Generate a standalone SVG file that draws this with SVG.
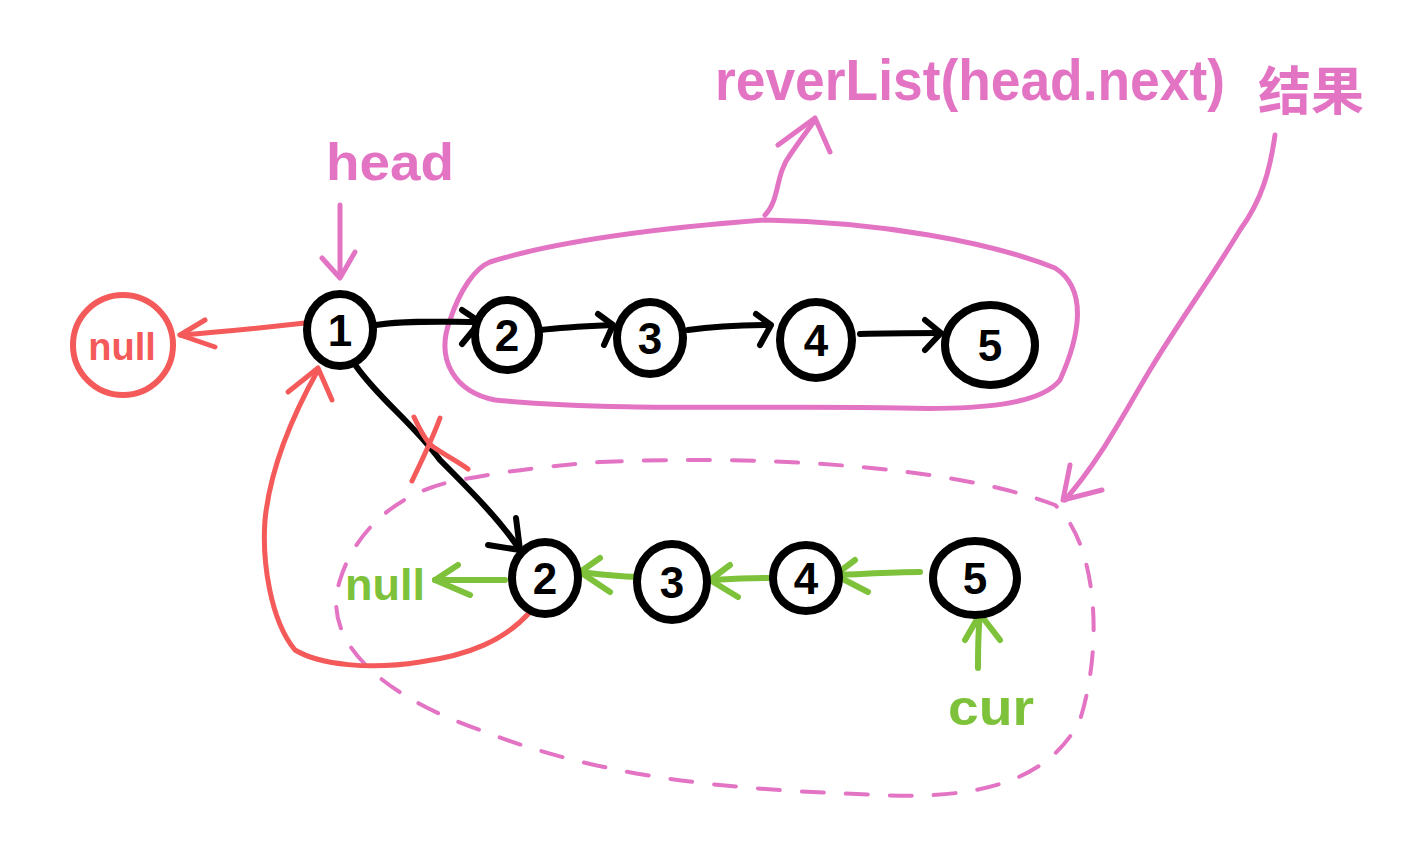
<svg xmlns="http://www.w3.org/2000/svg" width="1402" height="841" viewBox="0 0 1402 841">
<style>
.bk{fill:none;stroke:#000;stroke-width:6;stroke-linecap:round;stroke-linejoin:round}
.nd{fill:#fff;stroke:#000;stroke-width:8}
.num{font-family:"Liberation Sans",sans-serif;font-size:44px;font-weight:bold;fill:#000;text-anchor:middle}
.pk{fill:none;stroke:#E374C4;stroke-width:5;stroke-linecap:round;stroke-linejoin:round}
.pkd{fill:none;stroke:#E374C4;stroke-width:4;stroke-linecap:round;stroke-dasharray:22 22}
.rd{fill:none;stroke:#F55A5A;stroke-width:5;stroke-linecap:round;stroke-linejoin:round}
.gr{fill:none;stroke:#7DC23A;stroke-width:6;stroke-linecap:round;stroke-linejoin:round}
.tp{font-family:"Liberation Sans","Noto Sans CJK SC",sans-serif;fill:#E374C4;font-weight:bold}
.tg{font-family:"Liberation Sans",sans-serif;fill:#7DC23A;font-weight:bold}
.tr{font-family:"Liberation Sans",sans-serif;fill:#F55A5A;font-weight:bold}
</style>
<rect width="1402" height="841" fill="#fff"/>
<g id="top-blob"><path class="pk" d="M490,262 C560,240 660,228 765,220 C880,222 990,242 1055,268 C1090,290 1078,340 1060,380 C1040,405 980,410 900,408 C780,405 620,412 495,400 C455,392 435,360 450,320 C460,290 475,268 490,262 Z"/></g>
<g id="bottom-blob"><path class="pkd" d="M600,462 C760,455 950,465 1055,505 C1095,540 1105,640 1080,720 C1050,780 980,800 880,795 C760,790 620,785 480,730 C380,695 320,640 340,580 C355,530 400,490 460,480 C510,470 560,465 600,462 Z"/></g>
<g id="connectors">
<path class="bk" d="M376,325 C410,320 445,322 478,322"/><path class="bk" d="M462,310 L480,322 L462,344"/>
<path class="bk" d="M540,330 C565,327 590,326 612,325"/><path class="bk" d="M598,314 L613,325 L604,345"/>
<path class="bk" d="M688,330 C715,326 742,325 770,325"/><path class="bk" d="M756,314 L771,325 L760,345"/>
<path class="bk" d="M860,334 C890,333 915,333 940,333"/><path class="bk" d="M925,320 L941,333 L925,350"/>
<path class="bk" d="M356,366 C380,400 410,420 440,460 C470,490 500,520 520,550"/><path class="bk" d="M488,545 L520,550 L516,518"/>
<path class="rd" d="M305,323 C260,328 220,332 180,335"/><path class="rd" d="M205,320 L180,335 L215,347"/>
<path class="rd" d="M530,612 C505,640 470,655 420,662 C370,670 320,665 295,650 C270,620 262,560 265,520 C270,470 290,420 318,370"/><path class="rd" d="M288,392 L318,368 L332,400"/>
<path class="rd" d="M414,417 C420,430 425,440 432,446 C445,455 458,462 468,469 M440,418 C432,440 422,460 412,481"/>
<path class="gr" d="M920,572 C890,572 865,574 835,575"/><path class="gr" d="M855,560 L835,575 L868,592"/>
<path class="gr" d="M770,578 C750,578 730,579 710,580"/><path class="gr" d="M730,565 L710,580 L738,597"/>
<path class="gr" d="M637,577 C615,576 598,574 580,572"/><path class="gr" d="M600,558 L580,572 L610,592"/>
<path class="gr" d="M505,580 C480,580 460,580 435,580"/><path class="gr" d="M458,565 L435,580 L470,595"/>
<path class="gr" d="M978,668 C978,650 978,632 980,614"/><path class="gr" d="M965,640 L980,614 L1000,640"/>
<path class="pk" d="M340,205 L340,276"/><path class="pk" d="M322,258 L340,278 L355,252"/>
<path class="pk" d="M765,215 C780,200 775,175 790,155 C800,140 808,130 815,120"/><path class="pk" d="M778,145 L815,118 L830,152"/>
<path class="pk" d="M1275,135 C1270,170 1262,200 1240,230 C1210,280 1180,320 1150,370 C1120,420 1100,460 1065,500"/><path class="pk" d="M1070,465 L1063,500 L1102,490"/>
</g>
<g id="null-top"><circle cx="123" cy="345" r="50" fill="none" stroke="#F55A5A" stroke-width="6"/><text class="tr" x="122" y="360" font-size="38" text-anchor="middle">null</text></g>
<g id="n1"><ellipse class="nd" cx="340" cy="330" rx="33" ry="36"/><text class="num" x="340" y="346">1</text></g>
<g id="n2"><ellipse class="nd" cx="507" cy="335" rx="32" ry="35"/><text class="num" x="507" y="351">2</text></g>
<g id="n3"><ellipse class="nd" cx="650" cy="338" rx="33" ry="36"/><text class="num" x="650" y="354">3</text></g>
<g id="n4"><ellipse class="nd" cx="816" cy="340" rx="36" ry="38"/><text class="num" x="816" y="356">4</text></g>
<g id="n5"><ellipse class="nd" cx="990" cy="345" rx="45" ry="40"/><text class="num" x="990" y="361">5</text></g>
<g id="b2"><ellipse class="nd" cx="545" cy="578" rx="33" ry="36"/><text class="num" x="545" y="594">2</text></g>
<g id="b3"><ellipse class="nd" cx="672" cy="582" rx="35" ry="38"/><text class="num" x="672" y="598">3</text></g>
<g id="b4"><ellipse class="nd" cx="806" cy="578" rx="33" ry="33"/><text class="num" x="806" y="594">4</text></g>
<g id="b5"><ellipse class="nd" cx="975" cy="578" rx="42" ry="37"/><text class="num" x="975" y="594">5</text></g>
<g id="null-bottom"><text class="tg" x="345" y="600" font-size="44" textLength="80" lengthAdjust="spacingAndGlyphs">null</text></g>
<g id="cur"><text class="tg" x="948" y="725" font-size="50" textLength="86" lengthAdjust="spacingAndGlyphs">cur</text></g>
<g id="head-label"><text class="tp" x="326" y="180" font-size="52" textLength="128" lengthAdjust="spacingAndGlyphs">head</text></g>
<g id="title"><text class="tp" x="715" y="100" font-size="58" textLength="510" lengthAdjust="spacingAndGlyphs">reverList(head.next)</text><text class="tp" x="1258" y="110" font-size="52" textLength="106" lengthAdjust="spacingAndGlyphs">结果</text></g>
</svg>
